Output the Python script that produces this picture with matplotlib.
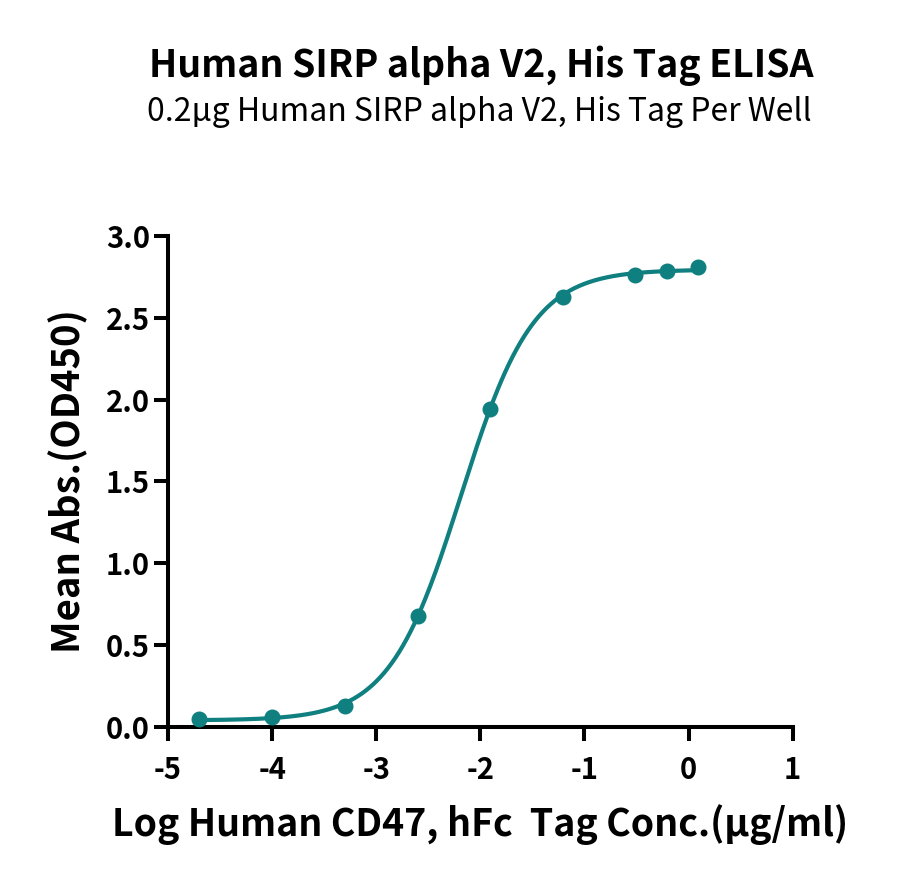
import numpy as np
import matplotlib
matplotlib.use("Agg")
import matplotlib.pyplot as plt

# Data (log concentration, mean absorbance)
log_conc = [-4.70, -4.00, -3.30, -2.60, -1.91, -1.21, -0.51, -0.21, 0.09]
od450 = [0.05, 0.06, 0.13, 0.68, 1.94, 2.63, 2.76, 2.785, 2.81]
x_ticks = [-5, -4, -3, -2, -1, 0, 1]
y_ticks = [0.0, 0.5, 1.0, 1.5, 2.0, 2.5, 3.0]

title = "Human SIRP alpha V2, His Tag ELISA"
subtitle = "0.2\u00b5g Human SIRP alpha V2, His Tag Per Well"
xlabel = "Log Human CD47, hFc  Tag Conc.(\u00b5g/ml)"
ylabel = "Mean Abs.(OD450)"

color = "#0f7f80"
plt.rcParams['font.family'] = ['Noto Sans CJK SC', 'DejaVu Sans']


def four_pl(x, p):
    bottom, top, logec50, hill = p
    return bottom + (top - bottom) / (1 + 10 ** ((logec50 - x) * hill))


def fit_4pl(x, y):
    x = np.asarray(x, float)
    y = np.asarray(y, float)
    p = np.array([y.min(), y.max(), np.mean(x), 1.0])
    lam = 1e-2
    for _ in range(500):
        r = y - four_pl(x, p)
        J = np.zeros((len(x), 4))
        for i in range(4):
            dp = np.zeros(4)
            dp[i] = 1e-6
            J[:, i] = (four_pl(x, p + dp) - four_pl(x, p - dp)) / 2e-6
        A = J.T @ J
        g = J.T @ r
        step = np.linalg.solve(A + lam * np.diag(np.diag(A)), g)
        pn = p + step
        if np.sum((y - four_pl(x, pn)) ** 2) < np.sum(r ** 2):
            p = pn
            lam *= 0.5
        else:
            lam *= 4
    return p


params = fit_4pl(log_conc, od450)
xs = np.linspace(min(log_conc), max(log_conc), 400)

fig = plt.figure(figsize=(9, 8.88), dpi=100)
ax = fig.add_axes([0.1867, 0.1813, 0.694, 0.553])

ax.plot(xs, four_pl(xs, params), color=color, lw=3.0, solid_capstyle='round', zorder=3)
ax.plot(log_conc, od450, 'o', color=color, ms=10.5, zorder=4, clip_on=False)

ax.set_xlim(-5, 1)
ax.set_ylim(0, 3.0)
ax.set_xticks(x_ticks)
ax.set_xticklabels([str(t) for t in x_ticks])
ax.set_yticks(y_ticks)
ax.set_yticklabels([f"{t:.1f}" for t in y_ticks])

for s in ['top', 'right']:
    ax.spines[s].set_visible(False)
for s in ['left', 'bottom']:
    ax.spines[s].set_linewidth(2.9)
    ax.spines[s].set_color('black')
    ax.spines[s].set_capstyle('projecting')

ax.tick_params(axis='both', which='major', direction='out', length=10, width=2.9,
               labelsize=21, color='black')
ax.tick_params(axis='y', pad=3)
ax.tick_params(axis='x', pad=10)
for lab in ax.get_xticklabels() + ax.get_yticklabels():
    lab.set_fontweight('bold')

ax.set_xlabel(xlabel, fontsize=27, fontweight='bold', labelpad=14)
ax.set_ylabel(ylabel, fontsize=27.5, fontweight='bold', labelpad=13)

fig.text(0.535, 1 - 66 / 888, title, ha='center', va='center', fontsize=27, fontweight='bold')
fig.text(0.533, 1 - 112 / 888, subtitle, ha='center', va='center', fontsize=23)

fig.savefig("out.png", dpi=100, facecolor='white')
